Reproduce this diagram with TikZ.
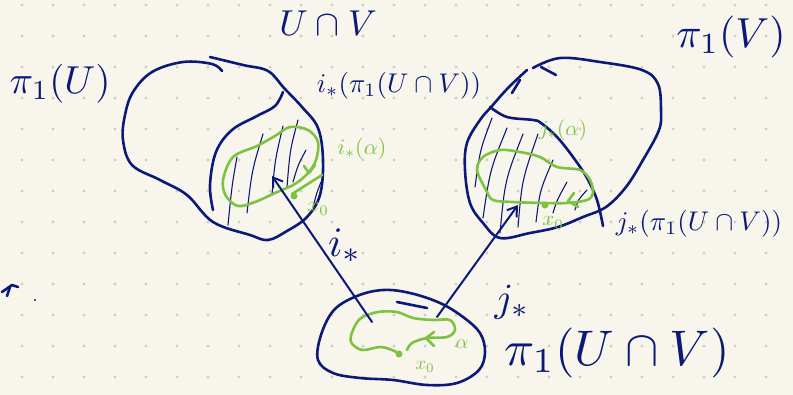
\documentclass[tikz,border=0pt]{standalone}
\usepackage{graphicx}
\usepackage{amsmath}
\usetikzlibrary{arrows.meta}
\definecolor{paper}{HTML}{F8F6EC}
\definecolor{ink}{HTML}{0B1A78}
\definecolor{leaf}{HTML}{7DC242}
\definecolor{griddot}{HTML}{CFCDC4}
\newcommand{\sz}[2]{\scalebox{#1}{#2}}
\tikzset{
  blob/.style={draw=ink,line width=2.6pt,line cap=round,line join=round},
  hatch/.style={draw=ink,line width=1.1pt,line cap=round},
  loop/.style={draw=leaf,line width=2.6pt,line cap=round,line join=round},
  mapline/.style={draw=ink,line width=2pt,line cap=round,-{Straight Barb[length=9pt,width=12pt,line width=2pt]}},
  lbl/.style={text=ink,inner sep=0pt},
  glbl/.style={text=leaf,inner sep=0pt},
  basept/.style={circle,fill=leaf,inner sep=0pt,minimum size=7pt},
}
\begin{document}
\begin{tikzpicture}[x=1pt,y=-1pt]
\fill[paper] (0,0) rectangle (793,395);
\useasboundingbox (0,0) rectangle (793,395);
% dot grid
\foreach \i in {0,...,25}{\foreach \j in {0,...,12}{
  \fill[griddot] ({22+31*\i},{5+31*\j}) circle (1.6pt);}}

% ---------- left blob U ----------
\draw[blob] plot[smooth, tension=0.6] coordinates {(222,71) (212,64) (183,62) (152,72) (133,92) (125,115) (123,140) (132,165) (160,180) (187,195) (213,222) (250,235) (268,240) (287,231) (307,217) (320,195) (323,160) (318,128) (302,107) (284,88) (268,71) (243,65) (210,57)};
% inner boundary
\draw[blob] plot[smooth, tension=0.6] coordinates {(283,92) (275,106) (257,116) (232,130) (216,152) (210,185) (213,210)};
% hatching
\draw[hatch] (237,157) .. controls (232,185) .. (228,225);
\draw[hatch] (263,134) .. controls (252,170) .. (247,213);
\draw[hatch] (283,126) .. controls (275,160) .. (272,195);
\draw[hatch] (298,120) .. controls (290,150) .. (287,187);
\draw[hatch] (306,150) .. controls (298,165) .. (293,182);
\draw[hatch] (321,182) .. controls (316,195) .. (313,208);
% green loop
\draw[loop] plot[smooth cycle, tension=0.55] coordinates {(223,180) (233,157) (257,146) (275,136) (290,127) (308,130) (318,142) (316,160) (308,173) (295,184) (275,193) (255,202) (238,206) (226,196)};
\draw[loop] (292,194) -- (322,175);
\draw[loop] (304,166) -- (309,173) -- (315,165);
\node[basept] (x0L) at (294,196) {};
\node[glbl] (x0Ltxt) at (318,209) {\sz{2.1}{$x_0$}};
\node[glbl] (iaL) at (362,149) {\sz{2.2}{$i_*(\alpha)$}};

% ---------- right blob V ----------
\draw[blob] plot[smooth, tension=0.6] coordinates {(533,68) (560,58) (600,62) (642,70) (658,84) (661,110) (659,130) (643,160) (626,187) (606,207) (583,217) (558,227) (530,233) (500,238) (483,223) (470,203) (465,170) (467,143) (480,120) (492,106) (508,88) (527,70)};
\draw[blob] (512,93) -- (520,80);
\draw[blob] (541,67) -- (556,75);
% inner boundary
\draw[blob] plot[smooth, tension=0.6] coordinates {(490,107) (507,117) (533,120) (541,123) (557,137) (573,157) (587,178) (597,200) (603,226)};
% hatching
\draw[hatch] (492,118) .. controls (480,150) .. (475,187);
\draw[hatch] (507,128) .. controls (490,170) .. (483,218);
\draw[hatch] (523,134) .. controls (505,180) .. (500,233);
\draw[hatch] (538,134) .. controls (522,180) .. (518,227);
\draw[hatch] (553,160) .. controls (540,190) .. (536,222);
\draw[hatch] (567,182) .. controls (557,200) .. (553,213);
\draw[hatch] (587,190) .. controls (578,200) .. (575,210);
% green loop
\draw[loop] plot[smooth cycle, tension=0.55] coordinates {(477,170) (483,157) (500,150) (520,152) (540,157) (557,167) (580,170) (590,180) (593,193) (587,200) (567,203) (543,203) (513,202) (493,200) (486,190)};
\draw[loop] (574,193) -- (568,201) -- (578,207);
\node[basept] (x0R) at (545,205) {};
\node[glbl] (x0Rtxt) at (553,223) {\sz{2.1}{$x_0$}};
\node[glbl] (jaR) at (563,130) {\sz{2.1}{$j_*(\alpha)$}};

% ---------- bottom blob U cap V ----------
\draw[blob] plot[smooth cycle, tension=0.6] coordinates {(318,360) (321,335) (334,310) (357,296) (383,290) (410,293) (440,303) (463,317) (480,333) (485,352) (479,370) (457,383) (427,385) (393,380) (360,378) (333,373)};
\draw[blob] (397,302) -- (427,308);
% green loop
\draw[loop] plot[smooth, tension=0.55] coordinates {(400,354) (392,350) (380,347) (362,350) (351,342) (353,330) (361,318) (378,312) (397,312) (413,318) (433,320) (450,320) (455,330) (447,337) (427,338) (412,343) (407,350)};
\draw[loop] (434,332) -- (426,338) -- (434,346);
\node[basept] (x0B) at (399,354) {};
\node[glbl] (x0Btxt) at (425,367) {\sz{1.9}{$x_0$}};
\node[glbl] (alB) at (462,344) {\sz{2.0}{$\alpha$}};

% ---------- maps ----------
\coordinate (iFrom) at (372,322);
\coordinate (iTo) at (272,176);
\coordinate (jFrom) at (437,317);
\coordinate (jTo) at (518,205);
\draw[mapline] (iFrom) -- (iTo);
\draw[mapline] (jFrom) -- (jTo);

% ---------- labels ----------
\node[lbl] (capTop) at (328,23) {\sz{3.6}{$U\cap V$}};
\node[lbl] (piU) at (60,84) {\sz{3.9}{$\pi_1(U)$}};
\node[lbl] (piV) at (731,37) {\sz{4.2}{$\pi_1(V)$}};
\node[lbl] (imgI) at (399,86) {\sz{2.7}{$i_*(\pi_1(U\cap V))$}};
\node[lbl] (imgJ) at (699,224) {\sz{2.7}{$j_*(\pi_1(U\cap V))$}};
\node[lbl] (piUV) at (617,353) {\sz{5.0}{$\pi_1(U\cap V)$}};
\node[lbl] (iStar) at (345,246) {\sz{4.2}{$i_*$}};
\node[lbl] (jStar) at (512,302) {\sz{4.0}{$j_*$}};

% stray mark
\draw[blob] (2,292) -- (12,285) -- (18,287);
\draw[blob] (10,287) -- (7,296);
\fill[ink] (35,300) circle (1.2pt);
\end{tikzpicture}
\end{document}
